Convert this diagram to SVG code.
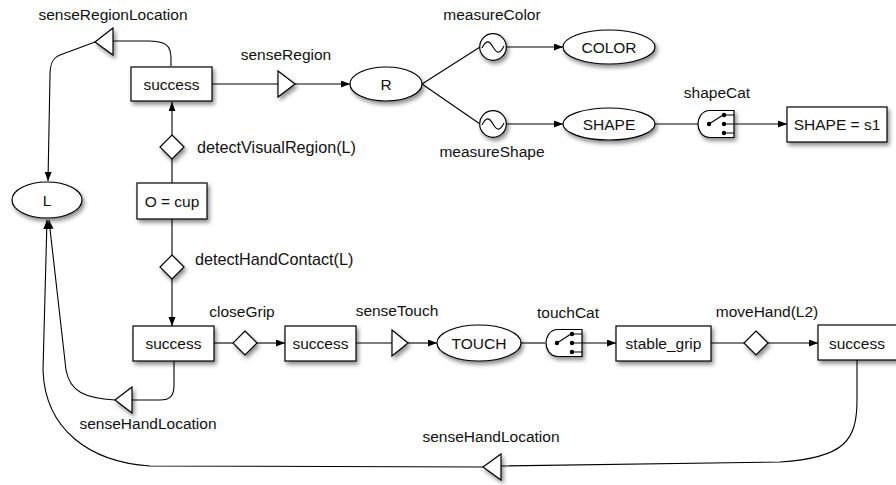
<svg xmlns="http://www.w3.org/2000/svg" width="896" height="485" viewBox="0 0 896 485">
<style>
text{font-family:"Liberation Sans",Arial,sans-serif;font-size:15.5px;fill:#111}
.c{text-anchor:middle}
.d{font-size:16.2px}
.n{fill:#fff;stroke:#000;stroke-width:1.2}
.w{fill:none;stroke:#000;stroke-width:1.1}
.a{marker-end:url(#ar)}
</style>
<defs>
<marker id="ar" markerUnits="userSpaceOnUse" markerWidth="10" markerHeight="8" refX="9" refY="3.5" orient="auto"><path d="M0,0 L9,3.5 L0,7 z" fill="#000"/></marker>
<filter id="sh" x="-30%" y="-30%" width="170%" height="180%"><feDropShadow dx="2" dy="3" stdDeviation="2" flood-color="#000" flood-opacity="0.45"/></filter>
<g id="sw">
<path d="M18,-13.5 L-6,-13.5 C-15,-13.5 -18,-5 -18,0 C-18,5 -15,13.5 -6,13.5 L18,13.5 Z" fill="#fff" stroke="#000" stroke-width="1.2"/>
<path d="M-7,0 L7,-9 M8,-9 H18 M8,0 H18 M8,9 H18" fill="none" stroke="#000" stroke-width="1.1"/>
<circle cx="-7" cy="0" r="2.2" fill="#000"/><circle cx="8" cy="-9" r="2.2" fill="#000"/><circle cx="8" cy="0" r="2.2" fill="#000"/><circle cx="8" cy="9" r="2.2" fill="#000"/>
</g>
</defs>
<g id="connectors">
<path class="w" d="M171,66 L171,58 C171,45 165,41 148,41 L113,41"/>
<path class="w a" d="M95,42 L60,55 C52,58 50,65 50,75 L48,181"/>
<path class="w" d="M212,84 L278,84"/>
<path class="w a" d="M295,84 L350,84"/>
<path class="w" d="M422,84 L480,47 M422,84 L480,124"/>
<path class="w a" d="M506.5,47 L563,47"/>
<path class="w a" d="M506.5,124 L563,124"/>
<path class="w" d="M655,124 L698,124"/>
<path class="w a" d="M735,124 L787,124"/>
<path class="w a" d="M172,135 L172,102"/>
<path class="w" d="M172,183 L172,159 M172,219 L172,255"/>
<path class="w a" d="M172,279 L172,326"/>
<path class="w" d="M214,343 L233,343"/>
<path class="w a" d="M257,343 L285,343"/>
<path class="w" d="M356,343 L392,343"/>
<path class="w a" d="M408,343 L437,343"/>
<path class="w" d="M521,343 L545,343"/>
<path class="w a" d="M582,343 L616,343"/>
<path class="w" d="M711,343 L744,343"/>
<path class="w a" d="M768,343 L818,343"/>
<path class="w" d="M174,361 L174,385 C174,396 170,400 160,400 L132,400"/>
<path class="w a" d="M115,400 C85,398 70,392 66,370 L49,220"/>
<path class="w" d="M857,360 L857,400 C857,440 845,458 780,462 L501,466"/>
<path class="w a" d="M483,467 L150,466 C90,462 45,430 43,370 L47,220"/>
</g>
<g id="senseRegionLocation" filter="url(#sh)"><path class="n" d="M95,42 L113,28 L113,55 Z"/></g>
<text class="c" x="113" y="20">senseRegionLocation</text>
<g id="success-top" filter="url(#sh)"><rect class="n" x="131" y="67" width="81" height="34"/></g>
<text class="c" x="171.5" y="89.5">success</text>
<g id="senseRegion" filter="url(#sh)"><path class="n" d="M278,71 L295,84 L278,97 Z"/></g>
<text class="c" x="286" y="60">senseRegion</text>
<g id="R" filter="url(#sh)"><ellipse class="n" cx="386" cy="84" rx="36" ry="17"/></g>
<text class="c" x="386" y="89.5">R</text>
<g id="measureColor" filter="url(#sh)"><circle class="n" cx="493" cy="47" r="13.3"/><path class="w" d="M482,48 C486,40 489,40 493,47 C497,54 500,54 504,46"/></g>
<text class="c" x="492" y="20">measureColor</text>
<g id="measureShape" filter="url(#sh)"><circle class="n" cx="493" cy="124" r="13.3"/><path class="w" d="M482,125 C486,117 489,117 493,124 C497,131 500,131 504,123"/></g>
<text class="c" x="492" y="157">measureShape</text>
<g id="COLOR" filter="url(#sh)"><ellipse class="n" cx="609" cy="47" rx="46" ry="17"/></g>
<text class="c" x="609" y="52.5">COLOR</text>
<g id="SHAPE" filter="url(#sh)"><ellipse class="n" cx="609" cy="124" rx="46" ry="16"/></g>
<text class="c" x="609" y="129.5">SHAPE</text>
<g id="shapeCat" filter="url(#sh)"><use href="#sw" transform="translate(716,124)"/></g>
<text class="c" x="717" y="98">shapeCat</text>
<g id="SHAPE-s1" filter="url(#sh)"><rect class="n" x="787" y="107" width="100" height="35"/></g>
<text class="c" x="837" y="129.5">SHAPE = s1</text>
<g id="detectVisualRegion" filter="url(#sh)"><path class="n" d="M172,135 L184,147 L172,159 L160,147 Z"/></g>
<text class="d" x="197" y="153">detectVisualRegion(L)</text>
<g id="L" filter="url(#sh)"><ellipse class="n" cx="47" cy="200" rx="35" ry="18"/></g>
<text class="c" x="47" y="205.5">L</text>
<g id="O-cup" filter="url(#sh)"><rect class="n" x="137" y="183" width="70" height="36"/></g>
<text class="c" x="172" y="206.5">O = cup</text>
<g id="detectHandContact" filter="url(#sh)"><path class="n" d="M172,255 L184,267 L172,279 L160,267 Z"/></g>
<text class="d" x="195" y="265">detectHandContact(L)</text>
<g id="success-1" filter="url(#sh)"><rect class="n" x="133" y="326" width="81" height="35"/></g>
<text class="c" x="173.5" y="348.5">success</text>
<g id="closeGrip" filter="url(#sh)"><path class="n" d="M245,331 L257,343 L245,355 L233,343 Z"/></g>
<text class="c" x="242" y="317">closeGrip</text>
<g id="success-2" filter="url(#sh)"><rect class="n" x="285" y="326" width="71" height="35"/></g>
<text class="c" x="320.5" y="348.5">success</text>
<g id="senseTouch" filter="url(#sh)"><path class="n" d="M392,330 L408,343 L392,356 Z"/></g>
<text class="c" x="397" y="316">senseTouch</text>
<g id="TOUCH" filter="url(#sh)"><ellipse class="n" cx="479" cy="343" rx="42" ry="18"/></g>
<text class="c" x="479" y="348.5">TOUCH</text>
<g id="touchCat" filter="url(#sh)"><use href="#sw" transform="translate(564,343)"/></g>
<text class="c" x="568" y="318">touchCat</text>
<g id="stable_grip" filter="url(#sh)"><rect class="n" x="616" y="326" width="95" height="35"/></g>
<text class="c" x="663.5" y="348.5">stable_grip</text>
<g id="moveHand" filter="url(#sh)"><path class="n" d="M756,331 L768,343 L756,355 L744,343 Z"/></g>
<text class="c" x="767" y="317">moveHand(L2)</text>
<g id="success-3" filter="url(#sh)"><rect class="n" x="818" y="325" width="81" height="35"/></g>
<text class="c" x="857" y="348.5">success</text>
<g id="senseHandLocation-1" filter="url(#sh)"><path class="n" d="M115,400 L132,387 L132,413 Z"/></g>
<text class="c" x="148" y="429">senseHandLocation</text>
<g id="senseHandLocation-2" filter="url(#sh)"><path class="n" d="M483,467 L501,454 L501,480 Z"/></g>
<text class="c" x="491" y="442">senseHandLocation</text>
</svg>
